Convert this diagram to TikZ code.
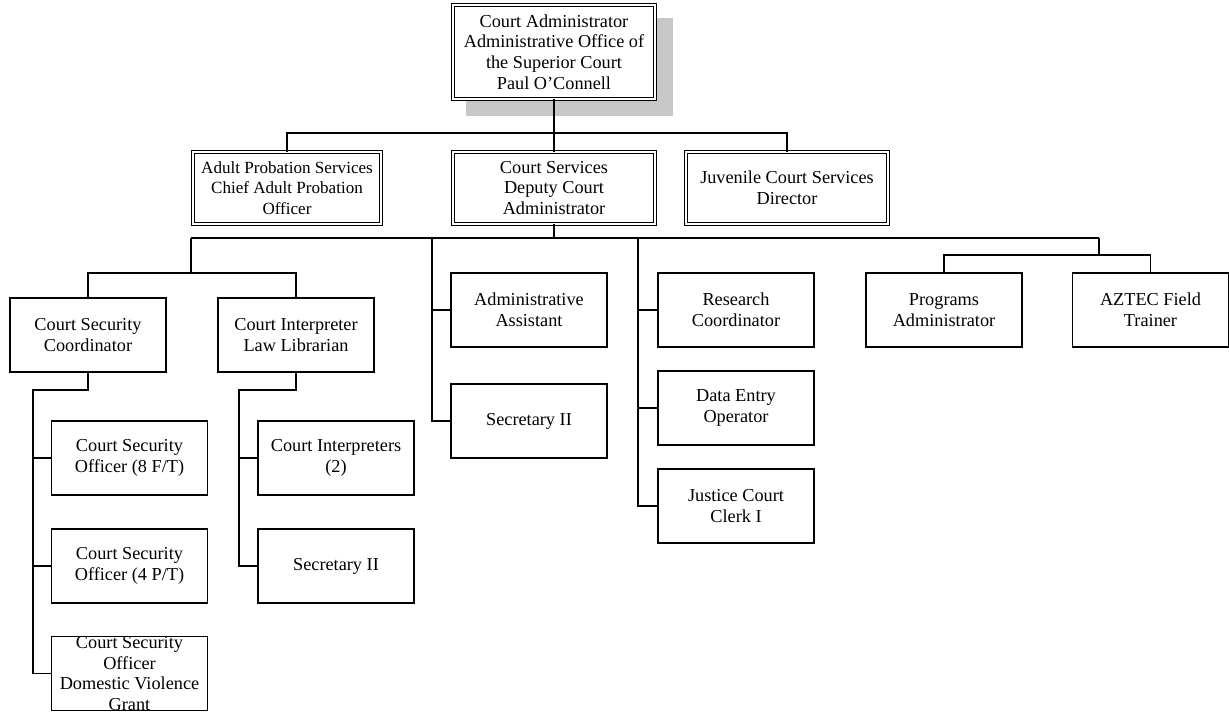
\documentclass[tikz,border=0pt]{standalone}
\usepackage{fontspec}
\setmainfont{Liberation Serif}

\tikzset{
  unit/.style={draw, rectangle, align=center, inner sep=0pt,
    minimum width=117pt, minimum height=55.5pt,
    font=\fontsize{13.7}{15.4}\selectfont},
  head/.style={unit, double, double distance=1.5pt, line width=0.7pt}
}

\begin{document}
\begin{tikzpicture}[x=0.75pt, y=-0.75pt, line width=1.1pt]
            \useasboundingbox (0,0) rectangle (1229,712);

            % Administrator
            \fill[black!22] (466,18) rectangle (673,116);
            \node[head, fill=white, minimum width=151.5pt, minimum height=70.5pt] (admin) at (554,52)
                {Court Administrator\\Administrative Office of\\the Superior Court\\Paul O'Connell};

            % Divisions
            \node[head, minimum width=141pt, minimum height=54pt, font=\fontsize{12.8}{15.4}\selectfont] (adult) at (287,188)
                {Adult Probation Services\\Chief Adult Probation\\Officer};
            \node[head, minimum width=151.5pt, minimum height=54pt] (csvc) at (554,188)
                {Court Services\\Deputy Court\\Administrator};
            \node[head, minimum width=151.5pt, minimum height=54pt] (juv) at (787,188)
                {Juvenile Court Services\\Director};

            % Court Services staff
            \node[unit] (csc) at (88,335) {Court Security\\Coordinator};
            \node[unit] (cil) at (296,335) {Court Interpreter\\Law Librarian};
            \node[unit] (aa) at (529,310) {Administrative\\Assistant};
            \node[unit] (sec1) at (529,421) {Secretary II};
            \node[unit] (rc) at (736,310) {Research\\Coordinator};
            \node[unit] (deo) at (736,408) {Data Entry\\Operator};
            \node[unit] (jcc) at (736,506) {Justice Court\\Clerk I};
            \node[unit] (pa) at (944,310) {Programs\\Administrator};
            \node[unit] (aft) at (1150.5,310) {AZTEC Field\\Trainer};

            % Security officers
            \node[unit] (cso1) at (129.5,458) {Court Security\\Officer (8 F/T)};
            \node[unit] (cso2) at (129.5,566) {Court Security\\Officer (4 P/T)};
            \node[unit] (cso3) at (129.5,673.5) {Court Security\\Officer\\Domestic Violence\\Grant};

            % Interpreter staff
            \node[unit] (ci) at (336,458) {Court Interpreters\\(2)};
            \node[unit] (sec2) at (336,566) {Secretary II};

            % Lines
            \coordinate (b1) at (554,133);
            \draw (admin) -- (b1);
            \draw (b1) -| (adult.north);
            \draw (b1) -| (juv.north);
            \draw (b1) -- (csvc.north);

            \coordinate (b2) at (554,238);
            \coordinate (l2) at (191,238);
            \coordinate (r2) at (1099,238);
            \coordinate (m1) at (432,238);
            \coordinate (m2) at (638,238);
            \draw (csvc.south) -- (b2);
            \draw (l2) -- (r2);

            \coordinate (l3) at (191,273);
            \draw (l2) -- (l3);
            \draw (l3) -| (csc.north);
            \draw (l3) -| (cil.north);

            \draw (m1) |- (sec1.west);
            \draw (m1 |- aa.west) -- (aa.west);

            \draw (m2) |- (jcc.west);
            \draw (m2 |- rc.west) -- (rc.west);
            \draw (m2 |- deo.west) -- (deo.west);

            \coordinate (r3) at (1099,255);
            \draw (r2) -- (r3);
            \draw (r3) -| (pa.north);
            \draw (r3) -| (aft.north);

            \coordinate (s1) at (33,390);
            \draw (csc.south) |- (s1) |- (cso3.west);
            \draw (s1 |- cso1.west) -- (cso1.west);
            \draw (s1 |- cso2.west) -- (cso2.west);

            \coordinate (s2) at (239,390);
            \draw (cil.south) |- (s2) |- (sec2.west);
            \draw (s2 |- ci.west) -- (ci.west);

        \end{tikzpicture}
\end{document}
